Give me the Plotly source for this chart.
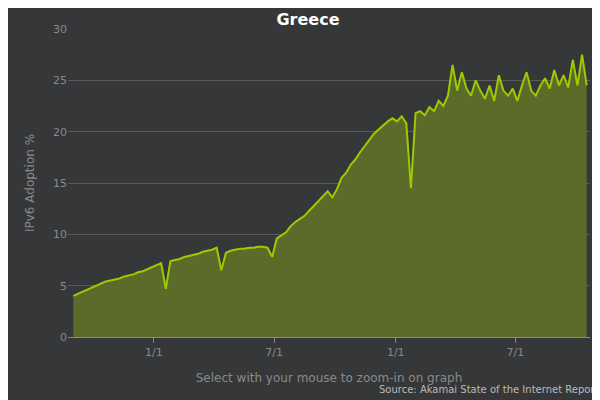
import pandas as pd
import plotly.graph_objects as go

# weekly samples
dates = pd.date_range("2015-09-01", periods=112, freq="7D")
adoption = [
    4.0, 4.2, 4.4, 4.6, 4.8, 5.0, 5.2, 5.4, 5.5, 5.6, 5.7, 5.9, 6.0, 6.1, 6.3, 6.4, 6.6, 6.8,
    7.0, 7.2, 4.7, 7.4, 7.5, 7.6, 7.8, 7.9, 8.0, 8.1, 8.3, 8.4, 8.5,
    8.7, 6.5, 8.2, 8.4, 8.5, 8.6, 8.6, 8.7, 8.7, 8.8, 8.8, 8.7, 7.8,
    9.6, 9.9, 10.2, 10.8, 11.2, 11.5, 11.8, 12.3, 12.8, 13.3, 13.8, 14.2, 13.6,
    14.4, 15.5, 16.0, 16.8, 17.3, 18.0, 18.6, 19.2, 19.8, 20.2, 20.6, 21.0, 21.3,
    21.0, 21.5, 20.8, 14.5, 21.8, 22.0, 21.6, 22.4, 22.0, 23.0, 22.5, 23.5, 26.5,
    24.0, 25.8, 24.2, 23.5, 25.0, 24.0, 23.2, 24.5, 23.0, 25.5, 24.0, 23.5, 24.2,
    23.0, 24.5, 25.8, 24.0, 23.5, 24.5, 25.2, 24.2, 26.0, 24.5, 25.5, 24.3, 27.0, 24.5, 27.5, 24.5,
]
tick_dates = ["2016-01-01", "2016-07-01", "2017-01-01", "2017-07-01"]
tick_text = ["1/1", "7/1", "1/1", "7/1"]

bg = "#353738"
fig = go.Figure(go.Scatter(
    x=dates, y=adoption, mode="lines", fill="tozeroy",
    line=dict(color="#9ccc00", width=2), fillcolor="#5c6b2a", showlegend=False))

fig.update_layout(
    width=600, height=400, paper_bgcolor=bg, plot_bgcolor=bg,
    margin=dict(l=60, r=18, t=21, b=71),
    title=dict(text="<b>Greece</b>", x=0.5, y=0.985, yanchor="top",
               font=dict(color="white", size=16, family="DejaVu Sans")),
    font=dict(family="DejaVu Sans", color="#8a8a8a", size=11),
)
fig.update_xaxes(range=["2015-08-24", "2017-10-22"], tickvals=tick_dates, ticktext=tick_text,
                 showgrid=False, ticks="outside", tickcolor="#888", linecolor="#888", showline=True,
                 title=dict(text="Select with your mouse to zoom-in on graph", font=dict(size=12)))
fig.update_yaxes(range=[0, 30], dtick=5, gridcolor="#5a5a5a", zeroline=False,
                 title=dict(text="IPv6 Adoption %", font=dict(size=12)))
fig.add_annotation(text="Source: Akamai State of the Internet Report", xref="paper", yref="paper",
                   x=1.02, y=-0.17, xanchor="right", yanchor="middle", showarrow=False,
                   font=dict(size=10, color="#bbbbbb"))
fig.write_html("out.html")
